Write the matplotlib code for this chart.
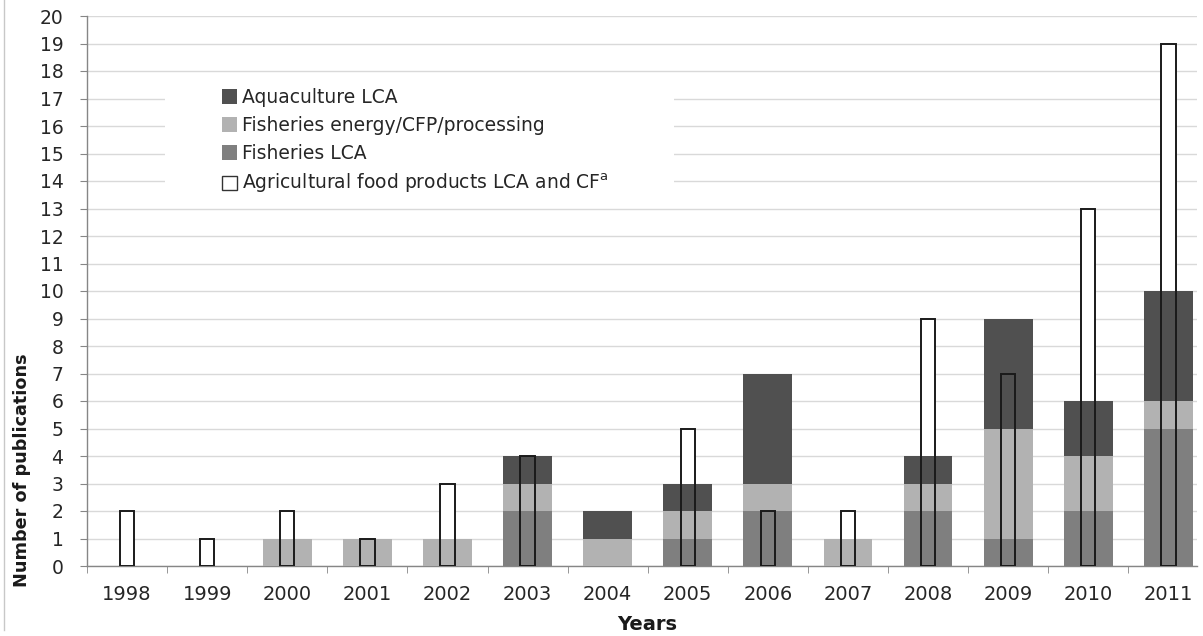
import matplotlib
matplotlib.use("Agg")
import matplotlib.pyplot as plt
from matplotlib.patches import Patch, Rectangle
from matplotlib.lines import Line2D
import numpy as np

years = ["1998", "1999", "2000", "2001", "2002", "2003", "2004",
         "2005", "2006", "2007", "2008", "2009", "2010", "2011"]
fisheries_lca = [0, 0, 0, 0, 0, 2, 0, 1, 2, 0, 2, 1, 2, 5]
fisheries_energy = [0, 0, 1, 1, 1, 1, 1, 1, 1, 1, 1, 4, 2, 1]
aquaculture_lca = [0, 0, 0, 0, 0, 1, 1, 1, 4, 0, 1, 4, 2, 4]
agricultural = [2, 1, 2, 1, 3, 4, 0, 5, 2, 2, 9, 7, 13, 19]

labels = ["Aquaculture LCA", "Fisheries energy/CFP/processing", "Fisheries LCA",
          "Agricultural food products LCA and CF$^{\\mathrm{a}}$"]

plt.rcParams['font.family'] = ['DejaVu Sans']

W, H = 1203, 636
fig = plt.figure(figsize=(W / 100, H / 100), dpi=100)

ax_l, ax_r, ax_b, ax_t = 87, 1197, 566, 16
ax = fig.add_axes([ax_l / W, (H - ax_b) / H, (ax_r - ax_l) / W, (ax_b - ax_t) / H])

x = np.arange(len(years))
c_aqua, c_energy, c_fish = '#505050', '#b2b2b2', '#7f7f7f'

fl = np.array(fisheries_lca)
fe = np.array(fisheries_energy)
aq = np.array(aquaculture_lca)
ag = np.array(agricultural)
nz = ag > 0

bw = 0.61
wb = 0.18
ax.bar(x[nz], ag[nz], width=wb, color='white', edgecolor='none', zorder=2)
ax.bar(x, fl, width=bw, color=c_fish, zorder=3)
ax.bar(x, fe, width=bw, bottom=fl, color=c_energy, zorder=3)
ax.bar(x, aq, width=bw, bottom=fl + fe, color=c_aqua, zorder=3)
ax.bar(x[nz], ag[nz], width=wb, color='none', edgecolor='#1a1a1a', linewidth=1.4, zorder=4)

cat_px = 80.1
ax.set_yticks(range(0, 21))
ax.set_xticks(x)
ax.set_xticklabels(years)
ax.set_xticks(np.arange(-0.5, len(years), 1.0), minor=True)
ax.set_xlim(-0.5, -0.5 + (ax_r - ax_l) / cat_px)
ax.set_ylim(0, 20)

ax.grid(axis='y', color='#d9d9d9', linewidth=1.0, zorder=0)
ax.set_axisbelow(True)

for s in ['top', 'right']:
    ax.spines[s].set_visible(False)
for s in ['left', 'bottom']:
    ax.spines[s].set_color('#868686')
    ax.spines[s].set_linewidth(1.0)

ax.tick_params(axis='y', which='major', length=5, color='#868686', pad=12,
               labelsize=13.5, labelcolor='#262626')
ax.tick_params(axis='x', which='major', length=0, pad=14, labelsize=14, labelcolor='#262626')
ax.tick_params(axis='x', which='minor', length=5, color='#868686')

# white box behind legend (hides gridlines)
rect = Rectangle((165, H - 204), 509, 126, transform=None, facecolor='white',
                 edgecolor='none', zorder=1)
ax.add_artist(rect)

handles = [Patch(facecolor=c_aqua, edgecolor='none'),
           Patch(facecolor=c_energy, edgecolor='none'),
           Patch(facecolor=c_fish, edgecolor='none'),
           Patch(facecolor='white', edgecolor='#333333', linewidth=1.0)]
leg = fig.legend(handles, labels, loc='upper left',
                 bbox_to_anchor=(222 / W, (H - 88) / H), frameon=False,
                 fontsize=13.5, handlelength=0.8, handleheight=0.8,
                 handletextpad=0.27, labelspacing=0.48, borderaxespad=0,
                 borderpad=0)
for t in leg.get_texts():
    t.set_color('#262626')

fig.text(647 / W, 1 - 625 / H, "Years", ha='center', va='center',
         fontsize=14, fontweight='bold', color='#1a1a1a')
fig.text(22 / W, 1 - 470 / H, "Number of publications", ha='center', va='center',
         rotation=90, fontsize=12.7, fontweight='bold', color='#1a1a1a')

fig.add_artist(Line2D([4 / W, 4 / W], [1, 1 - 630 / H], color='#c8c8c8',
                      linewidth=1.0, transform=fig.transFigure))

fig.savefig("out.png", dpi=100)
